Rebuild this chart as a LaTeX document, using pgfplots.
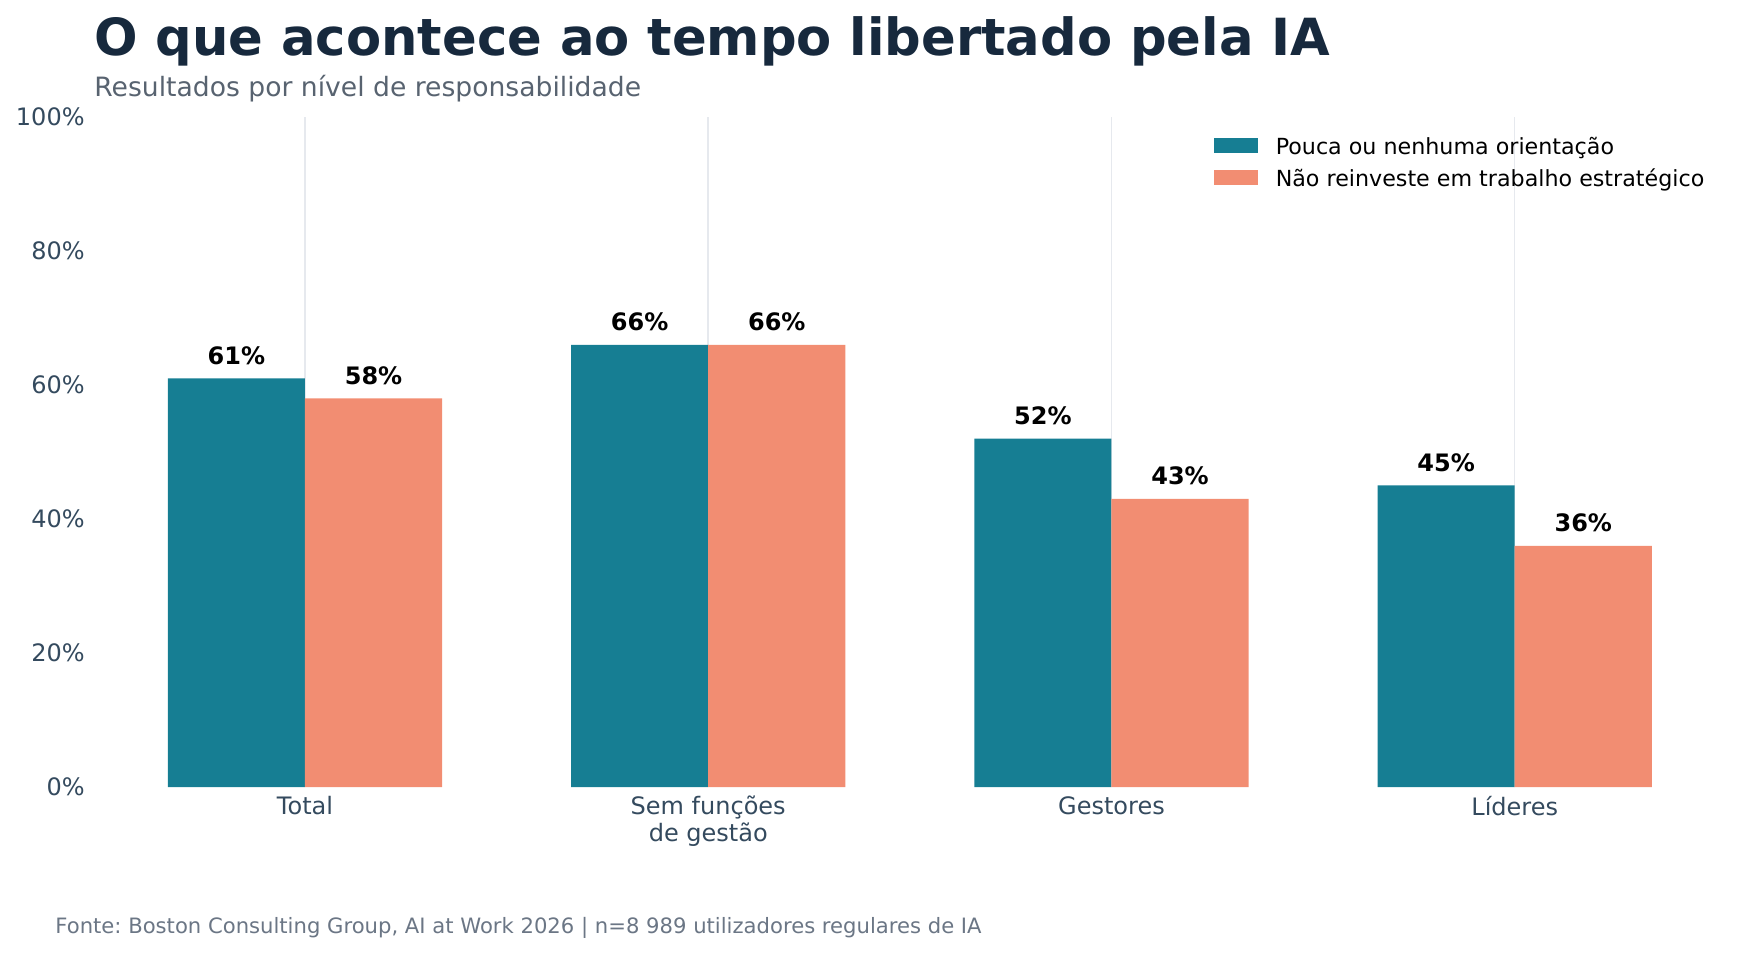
\documentclass[border=0pt]{standalone}
\usepackage{fontspec}
\setmainfont{DejaVu Sans}
\usepackage{pgfplots}
\pgfplotsset{compat=1.18}
\definecolor{teal1}{HTML}{167E93}
\definecolor{coral1}{HTML}{F28D72}
\definecolor{titlec}{HTML}{17293D}
\definecolor{subc}{HTML}{586370}
\definecolor{tickc}{HTML}{344A5E}
\definecolor{footc}{HTML}{6B7685}
\definecolor{gridc}{HTML}{E6E9EE}
\frenchspacing
\begin{document}
\begin{tikzpicture}
\useasboundingbox (0,0) rectangle (870.5pt,477pt);
\begin{axis}[
  at={(46.85pt,83.5pt)}, anchor=south west,
  scale only axis, width=816.15pt, height=335pt,
  xmin=-0.524, xmax=3.524, ymin=0, ymax=100,
  axis line style={draw=none},
  major tick length=0pt,
  xtick={0,1,2,3},
  xticklabels={Total,{Sem funções\\de gestão},Gestores,Líderes},
  xticklabel style={align=center, anchor=north, inner sep=0pt, yshift=-4.4pt,
    font=\fontsize{12}{13.5}\selectfont, text=tickc},
  ytick={0,20,40,60,80,100},
  yticklabels={0\%,20\%,40\%,60\%,80\%,100\%},
  yticklabel style={anchor=east, inner sep=0pt, xshift=-4.35pt,
    font=\fontsize{12}{14}\selectfont, text=tickc},
  xmajorgrids, ymajorgrids=false,
  major grid style={draw=gridc, line width=0.75pt},
  ybar, bar width=0.34,
  nodes near coords={\pgfmathprintnumber[fixed,precision=0,assume math mode=true]{\pgfplotspointmeta}\%},
  nodes near coords style={anchor=base, inner sep=0pt, yshift=7pt,
    font=\fontsize{12}{14}\selectfont\bfseries, text=black},
  clip=false,
  legend image code/.code={\path[#1, draw=none] (0pt,-2.8pt) rectangle (22pt,4.7pt);},
  legend style={draw=none, fill=none, inner sep=0pt,
    at={(0.6863,0.9766)}, anchor=north west,
    font=\fontsize{11.1}{13}\selectfont, row sep=1.85pt,
    /tikz/every odd column/.append style={column sep=6.7pt}},
  legend cell align=left,
]
\addplot[fill=teal1, draw=none, bar shift=-0.17] coordinates {(0,61) (1,66) (2,52) (3,45)};
\addplot[fill=coral1, draw=none, bar shift=0.17] coordinates {(0,58) (1,66) (2,43) (3,36)};
\legend{Pouca ou nenhuma orientação, Não reinveste em trabalho estratégico}
\end{axis}
\node[anchor=base west, inner sep=0pt, text=titlec, font=\fontsize{25.6}{30}\selectfont\bfseries] at (47pt,449pt) {O que acontece ao tempo libertado pela IA};
\node[anchor=base west, inner sep=0pt, text=subc, font=\fontsize{13.3}{16}\selectfont] at (47pt,428.7pt) {Resultados por nível de responsabilidade};
\node[anchor=base west, inner sep=0pt, text=footc, font=\fontsize{10.57}{12}\selectfont] at (27.5pt,10.5pt) {Fonte: Boston Consulting Group, AI at Work 2026 | n=8 989 utilizadores regulares de IA};
\end{tikzpicture}
\end{document}
